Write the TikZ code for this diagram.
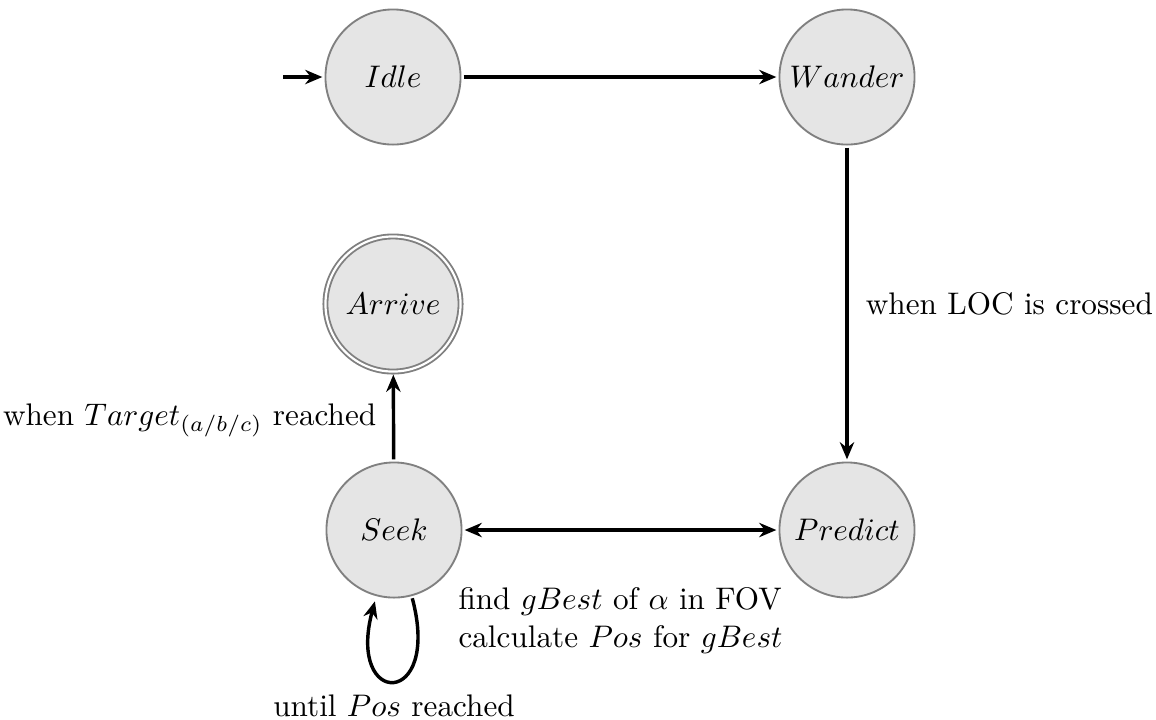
\documentclass[tikz,border=0pt]{standalone}
\usetikzlibrary{arrows.meta}
\begin{document}
\begin{tikzpicture}[x=0.3205pt,y=-0.3205pt,
  >={Stealth[length=5.5pt,width=4.6pt,inset=1.8pt]},
  state/.style={circle,draw=gray,fill=black!10,line width=0.6pt,minimum size=43.3pt,inner sep=0pt,outer sep=1pt},
  accept/.style={double=white,double distance=0.7pt},
  tr/.style={line width=1.1pt,->},
  lab/.style={inner sep=0pt}]
\useasboundingbox (0,0) rectangle (1156,719);
\node[state] (idle) at (393,77) {$Idle$};
\node[state] (wander) at (847,77) {$Wander$};
\node[state,accept] (arrive) at (393,304) {$Arrive$};
\node[state] (seek) at (394,530) {$Seek$};
\node[state] (predict) at (847,530) {$Predict$};
\coordinate (start) at (283,77);
\draw[tr] (start) -- (idle);
\draw[tr] (idle) -- (wander);
\draw[tr] (wander) -- node[lab,right,xshift=5.5pt] (l1) {when LOC is crossed} (predict);
\draw[tr] (seek) -- node[lab,left,xshift=-5pt,yshift=-1pt] (l2) {when $Target_{(a/b/c)}$ reached} (arrive);
\draw[tr,<->] (seek) -- node[lab,below,yshift=-18pt,align=left] (l3) {find $gBest$ of $\alpha$ in FOV\\calculate $Pos$ for $gBest$} (predict);
\path (seek) edge[tr,loop below] node[lab,below,yshift=-4pt] (l4) {until $Pos$ reached} ();
\end{tikzpicture}
\end{document}
